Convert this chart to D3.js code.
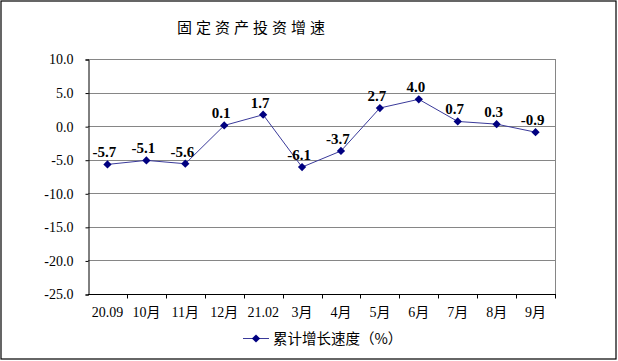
<!DOCTYPE html>
<html>
<head>
<meta charset="utf-8">
<script src="https://cdn.jsdelivr.net/npm/d3@7"></script>
<style>
  body { margin: 0; background: #fff; }
  #chart { width: 618px; height: 361px; }
</style>
</head>
<body>
<div id="chart"></div>
<script>
var width = 618, height = 361;
var margin = {top: 59, left: 88, right: 63, bottom: 67};
var serif = "'Liberation Serif', 'Times New Roman', 'Noto Sans CJK SC', serif";
var cjk = "'Noto Sans CJK SC', sans-serif";

// data
var categories = ["20.09", "10月", "11月", "12月", "21.02", "3月", "4月", "5月", "6月", "7月", "8月", "9月"];
var growth = [-5.7, -5.1, -5.6, 0.1, 1.7, -6.1, -3.7, 2.7, 4.0, 0.7, 0.3, -0.9];
var yTicks = [10, 5, 0, -5, -10, -15, -20, -25];
var seriesName = "累计增长速度（%）";
var title = "固定资产投资增速";

var svg = d3.select("#chart")
    .append("svg")
    .attr("width", width)
    .attr("height", height);

// outer frame
svg.append("rect")
    .attr("x", 1).attr("y", 1)
    .attr("width", width - 3).attr("height", height - 3)
    .attr("fill", "#fff")
    .attr("stroke", "#000")
    .attr("stroke-width", 1.2);

svg.append("text")
    .style("font-family", cjk)
    .attr("x", 253)
    .attr("y", 33)
    .attr("text-anchor", "middle")
    .attr("font-size", 15)
    .attr("letter-spacing", 4)
    .text(title);

var xScale = d3.scaleBand()
    .domain(categories)
    .range([margin.left, width - margin.right]);

var yScale = d3.scaleLinear()
    .domain([-25, 10])
    .range([height - margin.bottom, margin.top]);

// gridlines
svg.append("g")
    .selectAll("line")
    .data(yTicks.filter(function(d) { return d > -25; }))
    .enter()
    .append("line")
    .attr("x1", margin.left)
    .attr("x2", width - margin.right)
    .attr("y1", function(d) { return Math.round(yScale(d)) + 0.5; })
    .attr("y2", function(d) { return Math.round(yScale(d)) + 0.5; })
    .attr("stroke", "#868686");

// right border of plot area
svg.append("line")
    .attr("x1", width - margin.right + 0.5).attr("x2", width - margin.right + 0.5)
    .attr("y1", margin.top).attr("y2", height - margin.bottom)
    .attr("stroke", "#868686");

// y axis
var yAxis = svg.append("g")
    .attr("transform", "translate(" + (margin.left + 0.5) + ",0.5)")
    .call(d3.axisLeft(yScale).tickValues(yTicks).tickSize(3).tickPadding(12).tickFormat(d3.format(".1f")));
yAxis.select(".domain").attr("stroke", "#000");
yAxis.selectAll(".tick line").attr("stroke", "#000");
yAxis.selectAll("text")
    .style("font-family", serif)
    .style("font-size", "14px")
    .attr("fill", "#000")
    .text(function(d) { return d3.format(".1f")(d).replace("−", "-"); });

// x axis
var xAxis = svg.append("g")
    .attr("transform", "translate(0," + (height - margin.bottom + 0.5) + ")");
xAxis.append("line")
    .attr("x1", margin.left).attr("x2", width - margin.right + 1)
    .attr("stroke", "#000");
xAxis.selectAll(".tk")
    .data(categories.slice(1).concat(["end"]))
    .enter()
    .append("line")
    .attr("x1", function(d, i) { return Math.round(xScale(categories[0]) + xScale.step() * (i + 1)) + 0.5; })
    .attr("x2", function(d, i) { return Math.round(xScale(categories[0]) + xScale.step() * (i + 1)) + 0.5; })
    .attr("y1", 0).attr("y2", 4)
    .attr("stroke", "#000");
xAxis.selectAll(".lbl")
    .data(categories)
    .enter()
    .append("text")
    .style("font-family", serif)
    .attr("x", function(d) { return xScale(d) + xScale.bandwidth() / 2; })
    .attr("y", 22)
    .attr("text-anchor", "middle")
    .attr("font-size", 14)
    .text(function(d) { return d; });

// line
var line = d3.line()
    .x(function(d, i) { return xScale(categories[i]) + xScale.bandwidth() / 2; })
    .y(function(d) { return yScale(d); });

svg.append("path")
    .datum(growth)
    .attr("d", line)
    .attr("fill", "none")
    .attr("stroke", "#3a3a9a")
    .attr("stroke-width", 1);

var diamond = d3.symbol().type(d3.symbolSquare).size(34);

svg.selectAll(".pt")
    .data(growth)
    .enter()
    .append("path")
    .attr("d", diamond)
    .attr("transform", function(d, i) { return "translate(" + (xScale(categories[i]) + xScale.bandwidth() / 2) + "," + yScale(d) + ") rotate(45)"; })
    .attr("fill", "#000080");

// data labels
svg.selectAll(".val")
    .data(growth)
    .enter()
    .append("text")
    .style("font-family", serif)
    .attr("x", function(d, i) { return xScale(categories[i]) + xScale.bandwidth() / 2 - 3; })
    .attr("y", function(d) { return yScale(d) - 7; })
    .attr("text-anchor", "middle")
    .attr("font-size", 15)
    .attr("font-weight", "bold")
    .text(function(d) { return d.toFixed(1); });

// legend
var legend = svg.append("g").attr("transform", "translate(243,338.5)");
legend.append("line").attr("x1", 0).attr("x2", 26).attr("stroke", "#3a3a9a");
legend.append("path").attr("d", diamond).attr("transform", "translate(13,0) rotate(45)").attr("fill", "#000080");
legend.append("text")
    .style("font-family", cjk)
    .attr("x", 30)
    .attr("y", 5)
    .attr("font-size", 14.5)
    .text(seriesName);
</script>
</body>
</html>
